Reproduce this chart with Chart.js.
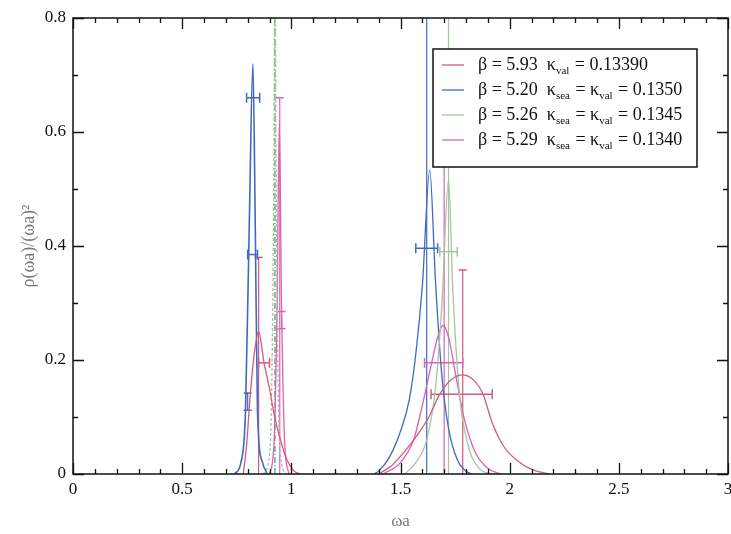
<!DOCTYPE html>
<html>
<head>
<meta charset="utf-8">
<script src="https://cdn.jsdelivr.net/npm/chart.js@4"></script>
<style>
  html, body { margin: 0; padding: 0; background: #fff; }
  canvas { display: block; }
</style>
</head>
<body>
<canvas id="specChart" width="731" height="534"></canvas>
<script>
// Spectral function curves, one pair of peaks per ensemble
const red1X = [0.78, 0.795, 0.81, 0.83, 0.85, 0.875, 0.90, 0.92, 0.95, 0.98, 1.01, 1.04];
const red1Y = [0, 0.05, 0.13, 0.21, 0.25, 0.195, 0.15, 0.107, 0.06, 0.025, 0.006, 0];
const red2X = [1.40, 1.46, 1.52, 1.58, 1.63, 1.68, 1.73, 1.785, 1.84, 1.876, 1.92, 1.97, 2.03, 2.10, 2.18];
const red2Y = [0, 0.015, 0.04, 0.07, 0.10, 0.14, 0.165, 0.174, 0.163, 0.142, 0.09, 0.05, 0.025, 0.008, 0];

const blue1X = [0.74, 0.769, 0.79, 0.807, 0.824, 0.835, 0.845, 0.868, 0.89];
const blue1Y = [0, 0.02, 0.11, 0.43, 0.72, 0.43, 0.11, 0.02, 0];
const blue2X = [1.38, 1.40, 1.45, 1.50, 1.54, 1.57, 1.60, 1.634, 1.66, 1.69, 1.72, 1.76, 1.80, 1.83];
const blue2Y = [0, 0.005, 0.03, 0.075, 0.13, 0.21, 0.33, 0.533, 0.34, 0.17, 0.08, 0.025, 0.005, 0];

const green1X = [0.87, 0.895, 0.91, 0.92, 0.925, 0.93, 0.94, 0.955, 0.98];
const green1Y = [0, 0.02, 0.15, 0.55, 0.95, 0.55, 0.15, 0.02, 0];
const green2X = [1.52, 1.57, 1.62, 1.66, 1.69, 1.72, 1.74, 1.77, 1.81, 1.86, 1.92];
const green2Y = [0, 0.02, 0.06, 0.15, 0.30, 0.516, 0.32, 0.14, 0.05, 0.01, 0];

const mag1X = [0.90, 0.92, 0.935, 0.945, 0.955, 0.97, 0.99];
const mag1Y = [0, 0.05, 0.30, 0.62, 0.30, 0.05, 0];
const mag2X = [1.42, 1.50, 1.56, 1.60, 1.64, 1.67, 1.695, 1.72, 1.75, 1.79, 1.84, 1.90, 1.96];
const mag2Y = [0, 0.02, 0.06, 0.12, 0.19, 0.24, 0.261, 0.24, 0.18, 0.10, 0.04, 0.01, 0];

// Horizontal error bars (mass estimates)
const hBarSeries = ["blue", "blue", "blue", "red", "red", "mag", "green"];
const hBarY = [0.66, 0.385, 0.396, 0.195, 0.14, 0.195, 0.39];
const hBarLo = [0.795, 0.80, 1.57, 0.85, 1.64, 1.61, 1.68];
const hBarHi = [0.855, 0.845, 1.67, 0.90, 1.92, 1.785, 1.76];

// Vertical lines / error bars; cap: 0 none, 1 top, 2 both ends
const vBarSeries = ["blue", "greenDark", "green", "mag", "mag", "red", "red", "mag", "blue"];
const vBarX = [1.62, 0.925, 1.72, 0.947, 1.70, 0.85, 1.785, 0.955, 0.80];
const vBarLo = [0, 0, 0, 0, 0, 0, 0, 0.255, 0.112];
const vBarHi = [0.85, 0.85, 0.85, 0.66, 0.55, 0.38, 0.358, 0.285, 0.142];
const vBarCap = [0, 0, 0, 1, 0, 1, 1, 2, 2];

// Legend entries
const legendSeries = ["red", "blue", "green", "mag"];
const legendBeta = ["5.93", "5.20", "5.26", "5.29"];
const legendKappa = ["0.13390", "0.1350", "0.1345", "0.1340"];
const legendSea = [false, true, true, true];

const colors = {
  red: "#d45a7c",
  blue: "#3e69c2",
  green: "#a6c4a2",
  greenDark: "#4a9670",
  mag: "#dc62b4",
};

function pts(xs, ys) {
  return xs.map((x, i) => ({ x: x, y: ys[i] }));
}

function curve(xs, ys, key, extra) {
  return Object.assign({
    data: pts(xs, ys),
    borderColor: colors[key],
    borderWidth: 1.3,
    pointRadius: 0,
    cubicInterpolationMode: "monotone",
    fill: false,
  }, extra || {});
}

const datasets = [
  curve(red1X, red1Y, "red"),
  curve(red2X, red2Y, "red"),
  curve(green1X, green1Y, "green", { borderDash: [3, 2] }),
  curve(green2X, green2Y, "green"),
  curve(mag1X, mag1Y, "mag"),
  curve(mag2X, mag2Y, "mag"),
  curve(blue1X, blue1Y, "blue", { borderWidth: 1.6 }),
  curve(blue2X, blue2Y, "blue"),
];

hBarY.forEach((y, i) => {
  datasets.push({
    data: [{ x: hBarLo[i], y: y }, { x: hBarHi[i], y: y }],
    borderColor: colors[hBarSeries[i]],
    borderWidth: 1.5,
    pointStyle: "line",
    rotation: 90,
    pointRadius: 5,
    pointBorderWidth: 1.5,
    pointBorderColor: colors[hBarSeries[i]],
    tension: 0,
  });
});

vBarX.forEach((x, i) => {
  const cap = vBarCap[i];
  datasets.push({
    data: [{ x: x, y: vBarLo[i] }, { x: x, y: vBarHi[i] }],
    borderColor: colors[vBarSeries[i]],
    borderWidth: 1.2,
    borderDash: vBarSeries[i] === "greenDark" ? [6, 2, 1, 2] : [],
    pointStyle: "line",
    rotation: 0,
    pointRadius: [cap === 2 ? 4 : 0, cap > 0 ? 4 : 0],
    pointBorderWidth: 1.5,
    pointBorderColor: colors[vBarSeries[i]],
    tension: 0,
  });
});

const serif = "'Liberation Serif', 'DejaVu Serif', serif";

// inward ticks on all four sides plus the frame
const frameTicks = {
  id: "frameTicks",
  afterDatasetsDraw(chart) {
    const { ctx, chartArea: a, scales } = chart;
    ctx.save();
    ctx.strokeStyle = "#111";
    ctx.lineWidth = 1.3;
    scales.x.ticks.forEach((t) => {
      const px = Math.round(scales.x.getPixelForValue(t.value)) + 0.5;
      const len = Math.round(t.value * 10) % 5 === 0 ? 11 : 5;
      ctx.beginPath();
      ctx.moveTo(px, a.bottom); ctx.lineTo(px, a.bottom - len);
      ctx.moveTo(px, a.top); ctx.lineTo(px, a.top + len);
      ctx.stroke();
    });
    scales.y.ticks.forEach((t) => {
      const py = Math.round(scales.y.getPixelForValue(t.value)) + 0.5;
      const len = Math.round(t.value * 10) % 2 === 0 ? 11 : 5;
      ctx.beginPath();
      ctx.moveTo(a.left, py); ctx.lineTo(a.left + len, py);
      ctx.moveTo(a.right, py); ctx.lineTo(a.right - len, py);
      ctx.stroke();
    });
    ctx.lineWidth = 1.5;
    ctx.strokeRect(a.left, a.top, a.right - a.left, a.bottom - a.top);
    ctx.restore();
  },
};

// legend box with subscripted kappa labels
const kappaLegend = {
  id: "kappaLegend",
  afterDraw(chart) {
    const { ctx, chartArea: a } = chart;
    const bx = a.right - 295, by = a.top + 31, bw = 264, bh = 118;
    ctx.save();
    ctx.fillStyle = "#fff";
    ctx.fillRect(bx, by, bw, bh);
    ctx.strokeStyle = "#111";
    ctx.lineWidth = 1.5;
    ctx.strokeRect(bx, by, bw, bh);
    ctx.textBaseline = "middle";
    legendSeries.forEach((key, i) => {
      const cy = by + 16 + i * 25;
      ctx.strokeStyle = colors[key];
      ctx.lineWidth = 1.3;
      ctx.beginPath();
      ctx.moveTo(bx + 9, cy); ctx.lineTo(bx + 31, cy);
      ctx.stroke();

      const parts = [["β = " + legendBeta[i] + "  κ", 0]];
      if (legendSea[i]) parts.push(["sea", 1], [" = κ", 0]);
      parts.push(["val", 1], [" = " + legendKappa[i], 0]);
      let x = bx + 45;
      ctx.fillStyle = "#111";
      parts.forEach(([txt, sub]) => {
        ctx.font = sub ? "11px " + serif : "18px " + serif;
        ctx.fillText(txt, x, sub ? cy + 6 : cy);
        x += ctx.measureText(txt).width + (sub ? 1 : 0);
      });
    });
    ctx.restore();
  },
};

new Chart(document.getElementById("specChart"), {
  type: "line",
  data: { datasets: datasets },
  options: {
    responsive: false,
    animation: false,
    devicePixelRatio: 1,
    layout: { autoPadding: false, padding: { left: 0, right: 3, top: 18, bottom: 0 } },
    plugins: { legend: { display: false }, tooltip: { enabled: false } },
    scales: {
      x: {
        type: "linear",
        min: 0,
        max: 3,
        afterFit: (s) => {
          s.height = 60;
          s.paddingLeft = 0;
          s.paddingRight = 0;
        },
        grid: { display: false, drawTicks: false },
        border: { display: false },
        ticks: {
          stepSize: 0.1,
          autoSkip: false,
          maxRotation: 0,
          padding: 5,
          color: "#111",
          font: { family: serif, size: 17 },
          callback: (v) => (Math.round(v * 10) % 5 === 0 ? String(Math.round(v * 10) / 10) : ""),
        },
        title: {
          display: true,
          text: "ωa",
          color: "#777",
          font: { family: serif, size: 17 },
          padding: { top: 2, bottom: 2 },
        },
      },
      y: {
        type: "linear",
        min: 0,
        max: 0.8,
        afterFit: (s) => { s.width = 73; },
        grid: { display: false, drawTicks: false },
        border: { display: false },
        ticks: {
          stepSize: 0.1,
          autoSkip: false,
          padding: 7,
          color: "#111",
          font: { family: serif, size: 17 },
          callback: (v) => (Math.round(v * 10) % 2 === 0 ? String(Math.round(v * 10) / 10) : ""),
        },
        title: {
          display: true,
          text: "ρ(ωa)/(ωa)²",
          color: "#777",
          font: { family: serif, size: 18 },
          padding: { top: 18, bottom: 0 },
        },
      },
    },
  },
  plugins: [frameTicks, kappaLegend],
});
</script>
</body>
</html>
